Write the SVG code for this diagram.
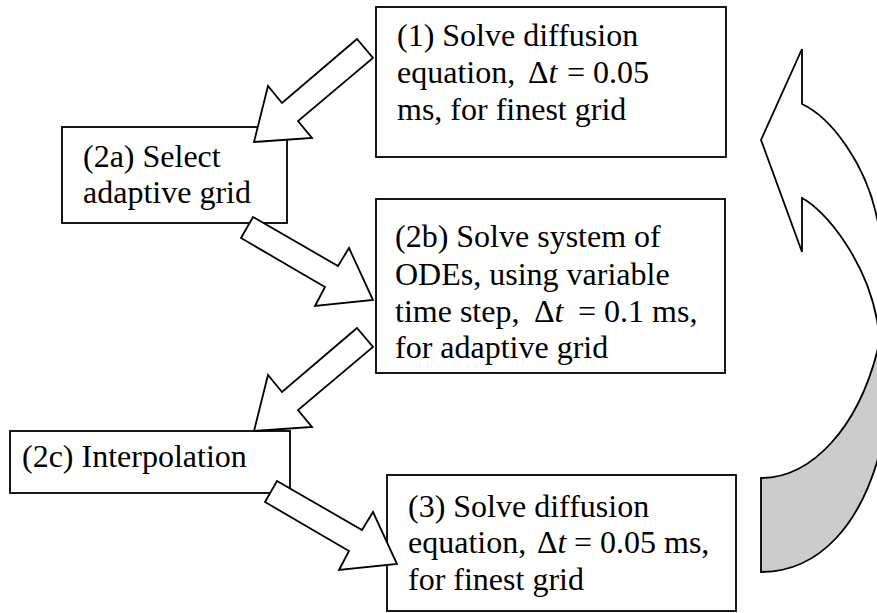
<svg xmlns="http://www.w3.org/2000/svg" width="877" height="613" viewBox="0 0 877 613">
<style>
.box{fill:#fff;stroke:#000;stroke-width:1.8}
.arr{fill:#fff;stroke:#000;stroke-width:1.8;stroke-linejoin:miter}
.t{font-family:"Liberation Serif","Times New Roman",serif;font-size:32px;fill:#000}
.i{font-style:italic}
</style>
<rect width="877" height="613" fill="#fff"/>
<g id="n1">
<rect class="box" x="376" y="7" width="350" height="150"/>
<text class="t" x="397" y="46">(1) Solve diffusion</text>
<text class="t" y="83"><tspan x="397">equation,</tspan><tspan x="528">Δ</tspan><tspan class="i">t</tspan><tspan x="567">= 0.05</tspan></text>
<text class="t" x="397" y="120">ms, for finest grid</text>
</g>
<g id="n2a">
<rect class="box" x="62" y="127" width="225" height="96"/>
<text class="t" x="83" y="167">(2a) Select</text>
<text class="t" x="83" y="203">adaptive grid</text>
</g>
<g id="n2b">
<rect class="box" x="376" y="199" width="349" height="174"/>
<text class="t" x="395" y="247">(2b) Solve system of</text>
<text class="t" x="395" y="285">ODEs, using variable</text>
<text class="t" y="322"><tspan x="395">time step,</tspan><tspan x="534">Δ</tspan><tspan class="i">t</tspan><tspan x="578">= 0.1 ms,</tspan></text>
<text class="t" x="395" y="358">for adaptive grid</text>
</g>
<g id="n2c">
<rect class="box" x="10" y="431" width="280" height="62"/>
<text class="t" x="22" y="467">(2c) Interpolation</text>
</g>
<g id="n3">
<rect class="box" x="387" y="475" width="349" height="136"/>
<text class="t" x="408" y="517">(3) Solve diffusion</text>
<text class="t" y="553"><tspan x="408">equation,</tspan><tspan x="537">Δ</tspan><tspan class="i">t</tspan><tspan x="574">= 0.05</tspan><tspan x="664">ms,</tspan></text>
<text class="t" x="408" y="590">for finest grid</text>
</g>
<g id="connectors">
<polygon class="arr" points="357,39 282,103 268,86 254,142 312,138 298,121 373,58"/>
<polygon class="arr" points="253,217 338,266 349,248 373,300 315,306 325,287 241,238"/>
<polygon class="arr" points="357,328 282,392 268,375 254,431 312,427 298,410 373,347"/>
<polygon class="arr" points="277,481 362,530 373,512 397,564 339,570 349,551 265,502"/>
<path d="M761,478 C810,478 860,430 880,340 L950,340 L950,430 L885,430 C865,530 815,572 761,572 Z" fill="#cccccc" stroke="#000" stroke-width="1.8"/>
<path d="M802,104 C832,118 866,165 877,218 C885,255 890,290 893,320 L950,320 L950,380 L884,380 C882,360 880,340 877,320 C866,260 825,210 802,198 L802,252 L761,140 L802,49 Z" fill="#fff" stroke="#000" stroke-width="1.8"/>
</g>
</svg>
